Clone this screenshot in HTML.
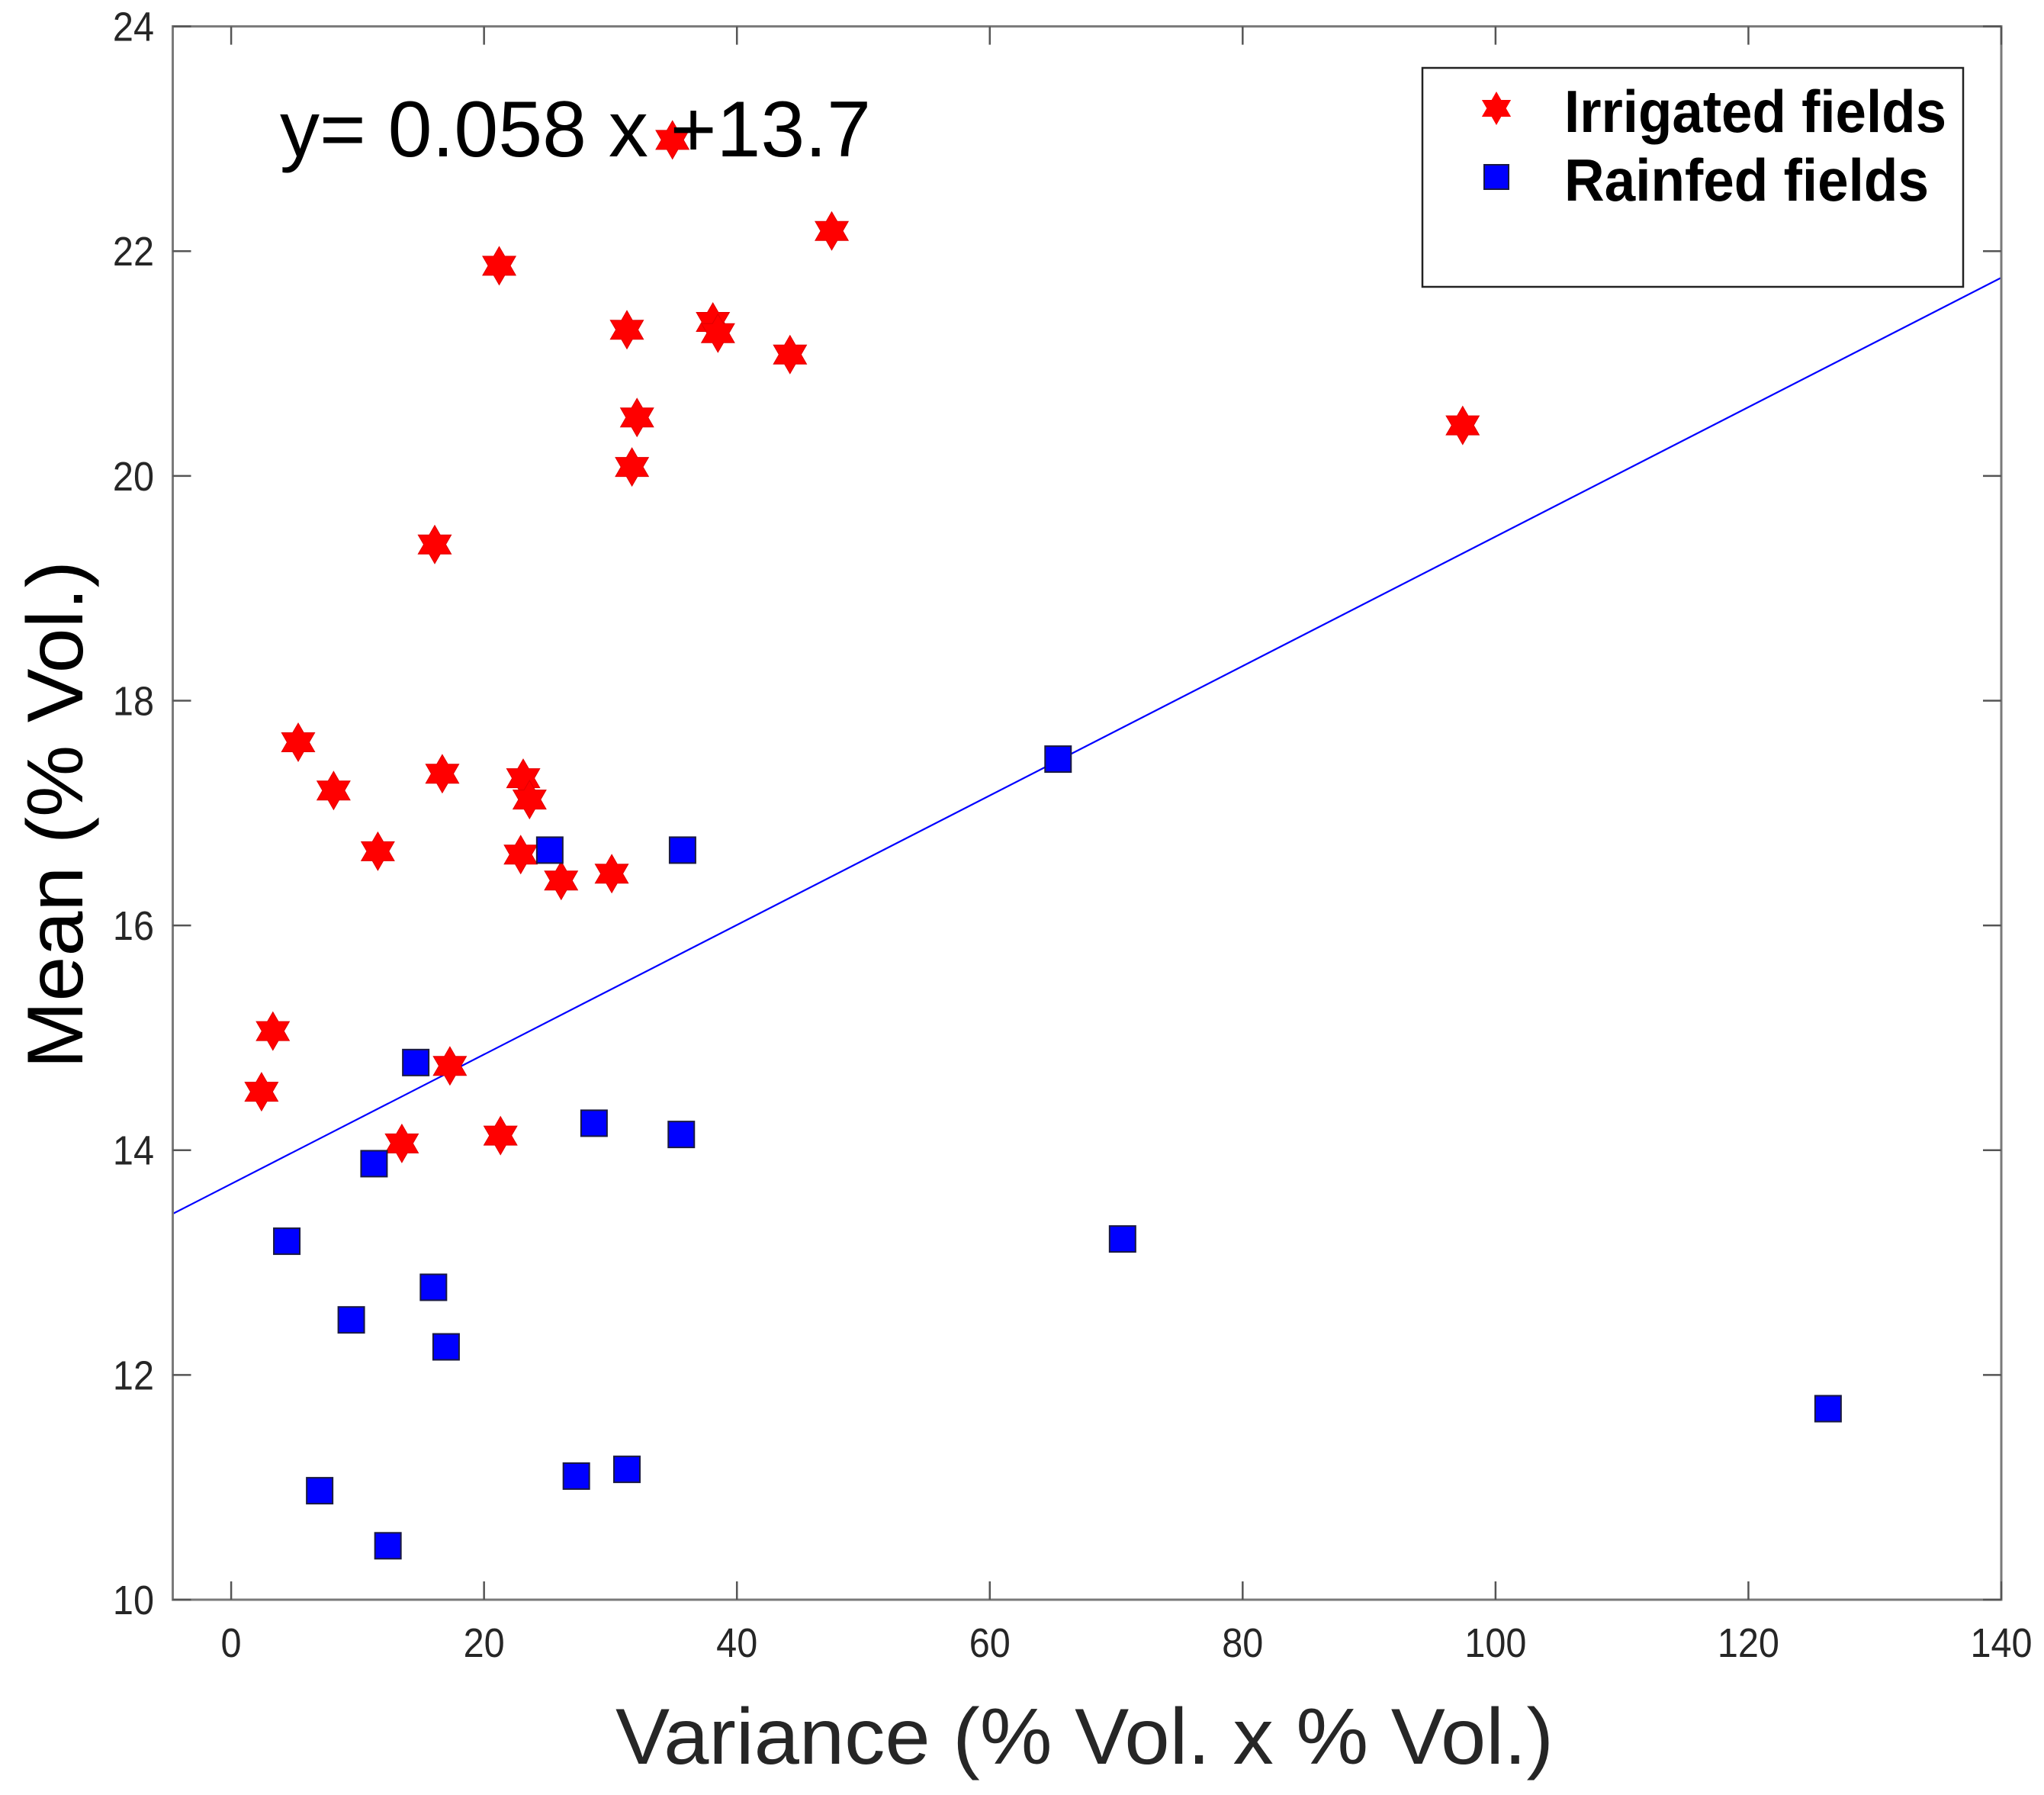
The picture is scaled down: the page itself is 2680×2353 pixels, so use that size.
<!DOCTYPE html>
<html><head><meta charset="utf-8"><style>
html,body{margin:0;padding:0;background:#fff}
svg{display:block}
text{font-family:"Liberation Sans",Arial,sans-serif}
</style></head><body>
<svg id="chart" width="2680" height="2353" viewBox="0 0 2680 2353" xmlns="http://www.w3.org/2000/svg">
<rect x="0" y="0" width="2680" height="2353" fill="#fff"/>
<g id="grid"></g>
<g id="fit"></g>
<g id="marks"></g>
<g id="axes"></g>
<text x="367" y="205" font-size="104" fill="#000" textLength="775" lengthAdjust="spacingAndGlyphs">y= 0.058 x +13.7</text>
<text x="807" y="2312" font-size="104" fill="#262626" textLength="1230" lengthAdjust="spacingAndGlyphs">Variance (% Vol. x % Vol.)</text>
<text transform="translate(108,1401) rotate(-90)" x="0" y="0" font-size="104" fill="#000" textLength="666" lengthAdjust="spacingAndGlyphs">Mean (% Vol.)</text>
<g>
<rect x="1865" y="89" width="709" height="287" fill="#fff" stroke="#222" stroke-width="2.5"/>
<g id="legend-marks"></g>
<text x="2051" y="173" font-size="78" font-weight="bold" fill="#000" textLength="501" lengthAdjust="spacingAndGlyphs">Irrigated fields</text>
<text x="2051" y="263" font-size="78" font-weight="bold" fill="#000" textLength="478" lengthAdjust="spacingAndGlyphs">Rainfed fields</text>
</g>
</svg>
<script>
const xTicks=[0,20,40,60,80,100,120,140];
const yTicks=[10,12,14,16,18,20,22,24];
const irrigatedX=[34.9,47.5,21.2,31.3,38.1,38.5,44.2,32.1,31.7,97.4,16.1,5.3,8.1,16.7,23.1,23.6,11.6,22.9,26.1,30.1,3.3,2.4,17.3,13.5,21.3];
const irrigatedY=[22.99,22.18,21.87,21.3,21.37,21.27,21.08,20.52,20.08,20.45,19.39,17.63,17.2,17.35,17.31,17.12,16.66,16.63,16.4,16.46,15.06,14.52,14.75,14.06,14.13];
const rainfedX=[65.4,25.2,35.7,14.6,28.7,35.6,11.3,4.4,70.5,16.0,9.5,17.0,126.3,7.0,27.3,31.3,12.4];
const rainfedY=[17.48,16.67,16.67,14.78,14.24,14.14,13.88,13.19,13.21,12.78,12.49,12.25,11.7,10.97,11.1,11.16,10.48];
const fitSlope=[0.0576];
const fitIntercept=[13.7];

const NS="http://www.w3.org/2000/svg";
const L=226.5,R=2624,T=34.6,B=2097;
const xMin=-4.62,xMax=140,yMin=10,yMax=24;
const sx=v=>L+(v-xMin)/(xMax-xMin)*(R-L);
const sy=v=>B-(v-yMin)/(yMax-yMin)*(B-T);
function mk(tag,attrs,parent){const e=document.createElementNS(NS,tag);for(const k in attrs)e.setAttribute(k,attrs[k]);parent.appendChild(e);return e;}
function starPts(cx,cy,r){const ri=r*0.577;let p=[];for(let i=0;i<12;i++){const a=-Math.PI/2+i*Math.PI/6;const rr=i%2?ri:r;p.push((cx+rr*Math.cos(a)).toFixed(1)+","+(cy+rr*Math.sin(a)).toFixed(1));}return p.join(" ");}

const axes=document.getElementById('axes');
const frame=mk('rect',{x:L,y:T,width:R-L,height:B-T,fill:'none',stroke:'#7a7a7a','stroke-width':3},axes);


xTicks.forEach(v=>{
  const x=sx(v);
  const t1=mk('line',{x1:x,y1:B,x2:x,y2:B-24,stroke:'#555','stroke-width':2.5},axes);
  
  
  const t2=mk('line',{x1:x,y1:T,x2:x,y2:T+24,stroke:'#555','stroke-width':2.5},axes);
  
  
  const tx=mk('text',{x:x,y:2172,'font-size':54,fill:'#262626','text-anchor':'middle',transform:`translate(${x},0) scale(0.9,1) translate(${-x},0)`},axes);
  tx.textContent=v;
  
  
});
yTicks.forEach(v=>{
  const y=sy(v);
  const t1=mk('line',{x1:L,y1:y,x2:L+24,y2:y,stroke:'#555','stroke-width':2.5},axes);
  
  
  const t2=mk('line',{x1:R,y1:y,x2:R-24,y2:y,stroke:'#555','stroke-width':2.5},axes);
  
  
  const tx=mk('text',{x:202,y:y+19,'font-size':54,fill:'#262626','text-anchor':'end',transform:'translate(202,0) scale(0.9,1) translate(-202,0)'},axes);
  tx.textContent=v;
  
  
});

const fit=document.getElementById('fit');
const fl=mk('line',{x1:sx(xMin),y1:sy(fitIntercept[0]+fitSlope[0]*xMin),x2:sx(xMax),y2:sy(fitIntercept[0]+fitSlope[0]*xMax),stroke:'#0000ff','stroke-width':2.2},fit);



const marks=document.getElementById('marks');
irrigatedX.forEach((v,i)=>{
  const s=mk('polygon',{points:starPts(sx(v),sy(irrigatedY[i]),25),fill:'#ff0000',stroke:'#e00000','stroke-width':1},marks);
  
  
});
rainfedX.forEach((v,i)=>{
  const s=mk('rect',{x:sx(v)-17,y:sy(rainfedY[i])-17,width:34,height:34,fill:'#0000ff',stroke:'#1a1a40','stroke-width':2},marks);
  
  
});

const lm=document.getElementById('legend-marks');
const ls=mk('polygon',{points:starPts(1962,142,22),fill:'#ff0000'},lm);


const lq=mk('rect',{x:1946,y:216,width:32,height:32,fill:'#0000ff',stroke:'#1a1a40','stroke-width':2},lm);


</script>
</body></html>
